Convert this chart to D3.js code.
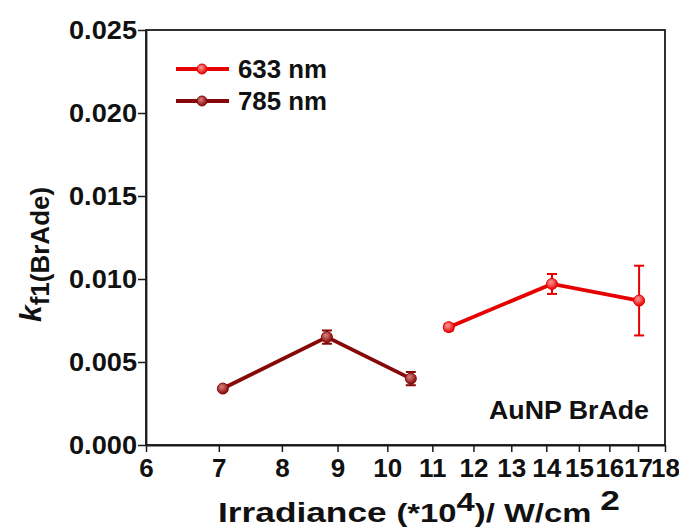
<!DOCTYPE html>
<html>
<head>
<meta charset="utf-8">
<script src="https://cdn.jsdelivr.net/npm/d3@7"></script>
<style>
  body { margin: 0; background: #fff; }
  svg { display: block; font-family: "Liberation Sans", Arial, sans-serif; font-weight: bold; }
</style>
</head>
<body>
<svg width="679" height="529"></svg>
<script>
// data
var irr633 = [11.39, 14.17, 17.04];
var k633 = [0.0071, 0.0097, 0.0087];
var err633 = [0.0002, 0.0006, 0.0021];

var irr785 = [7.06, 8.80, 10.51];
var k785 = [0.0034, 0.0065, 0.0040];
var err785 = [0.0001, 0.0004, 0.0004];

var xTicks = [6, 7, 8, 9, 10, 11, 12, 13, 14, 15, 16, 17, 18];
var yTicks = [0, 0.005, 0.010, 0.015, 0.020, 0.025];

var series = [
  {name: "633 nm", x: irr633, y: k633, e: err633, color: "#e60000", light: "#ff9a9a", id: "g633"},
  {name: "785 nm", x: irr785, y: k785, e: err785, color: "#860808", light: "#d98080", id: "g785"}
];

var svg = d3.select("svg");
var mLeft = 146, mRight = 665, mTop = 30, mBottom = 445;

var x = d3.scaleLog().domain([6, 18]).range([mLeft, mRight]);
var y = d3.scaleLinear().domain([0, 0.025]).range([mBottom, mTop]);

var defs = svg.append("defs");
series.forEach(function(s) {
  var g = defs.append("radialGradient").attr("id", s.id)
    .attr("cx", "40%").attr("cy", "35%").attr("r", "65%");
  g.append("stop").attr("offset", "0%").attr("stop-color", s.light);
  g.append("stop").attr("offset", "100%").attr("stop-color", s.color);
});

// frame
svg.append("rect")
  .attr("x", mLeft).attr("y", mTop)
  .attr("width", mRight - mLeft).attr("height", mBottom - mTop)
  .attr("fill", "none").attr("stroke", "#1a1a1a").attr("stroke-width", 1.8);

// axes
var xAxis = svg.append("g")
  .attr("transform", "translate(0," + mBottom + ")")
  .call(d3.axisBottom(x).tickValues(xTicks).tickFormat(d3.format("d")).tickSize(7).tickSizeOuter(0));
xAxis.select(".domain").attr("stroke", "#1a1a1a").attr("stroke-width", 1.8);
xAxis.selectAll(".tick line").attr("stroke", "#1a1a1a").attr("stroke-width", 1.5);
xAxis.selectAll("text").attr("font-size", 26).attr("fill", "#111").attr("dy", "0.85em")
  .attr("font-family", "Liberation Sans, Arial, sans-serif").attr("font-weight", "bold");

var yAxis = svg.append("g")
  .attr("transform", "translate(" + mLeft + ",0)")
  .call(d3.axisLeft(y).tickValues(yTicks).tickFormat(d3.format(".3f")).tickSize(8).tickPadding(1).tickSizeOuter(0));
yAxis.select(".domain").attr("stroke", "#1a1a1a").attr("stroke-width", 1.8);
yAxis.selectAll(".tick line").attr("stroke", "#1a1a1a").attr("stroke-width", 1.5);
yAxis.selectAll("text").attr("font-size", 25).attr("fill", "#111")
  .attr("textLength", 68).attr("lengthAdjust", "spacingAndGlyphs")
  .attr("font-family", "Liberation Sans, Arial, sans-serif").attr("font-weight", "bold");

// series
var line = d3.line()
  .x(function(d) { return x(d[0]); })
  .y(function(d) { return y(d[1]); });

series.forEach(function(s) {
  var pts = s.x.map(function(v, i) { return [v, s.y[i], s.e[i]]; });
  var g = svg.append("g");

  g.append("path")
    .datum(pts)
    .attr("d", line)
    .attr("fill", "none")
    .attr("stroke", s.color)
    .attr("stroke-width", 3.8);

  var eb = g.selectAll(".err").data(pts).enter().append("g");
  eb.append("line")
    .attr("x1", function(d) { return x(d[0]); })
    .attr("x2", function(d) { return x(d[0]); })
    .attr("y1", function(d) { return y(d[1] - d[2]); })
    .attr("y2", function(d) { return y(d[1] + d[2]); })
    .attr("stroke", s.color).attr("stroke-width", 2);
  [-1, 1].forEach(function(sign) {
    eb.append("line")
      .attr("x1", function(d) { return x(d[0]) - 5; })
      .attr("x2", function(d) { return x(d[0]) + 5; })
      .attr("y1", function(d) { return y(d[1] + sign * d[2]); })
      .attr("y2", function(d) { return y(d[1] + sign * d[2]); })
      .attr("stroke", s.color).attr("stroke-width", 2);
  });

  g.selectAll("circle").data(pts).enter().append("circle")
    .attr("cx", function(d) { return x(d[0]); })
    .attr("cy", function(d) { return y(d[1]); })
    .attr("r", 5.5)
    .attr("fill", "url(#" + s.id + ")")
    .attr("stroke", s.color).attr("stroke-width", 1);
});

// legend
series.forEach(function(s, i) {
  var ly = 69 + i * 32;
  svg.append("line")
    .attr("x1", 176).attr("x2", 229).attr("y1", ly).attr("y2", ly)
    .attr("stroke", s.color).attr("stroke-width", 3.8);
  svg.append("circle")
    .attr("cx", 202).attr("cy", ly).attr("r", 5)
    .attr("fill", "url(#" + s.id + ")").attr("stroke", s.color);
  svg.append("text")
    .attr("x", 238).attr("y", ly + 9)
    .attr("font-size", 25).attr("fill", "#111")
    .attr("textLength", 89).attr("lengthAdjust", "spacingAndGlyphs")
    .text(s.name);
});

// annotation
svg.append("text")
  .attr("x", 649).attr("y", 419)
  .attr("text-anchor", "end")
  .attr("font-size", 26).attr("fill", "#111")
  .attr("textLength", 160).attr("lengthAdjust", "spacingAndGlyphs")
  .text("AuNP BrAde");

// x title
var xt = svg.append("text")
  .attr("x", 218).attr("y", 522)
  .attr("font-size", 28).attr("fill", "#111")
  .attr("textLength", 402).attr("lengthAdjust", "spacingAndGlyphs");
xt.append("tspan").text("Irradiance ");
xt.append("tspan").attr("font-size", 26).text("(*10");
xt.append("tspan").attr("font-size", 26).attr("dy", -11).text("4");
xt.append("tspan").attr("font-size", 26).attr("dy", 11).text(")/ W/cm ");
xt.append("tspan").attr("font-size", 28).attr("dy", -12).text("2");

// y title
var yt = svg.append("text")
  .attr("transform", "translate(41,322) rotate(-90)")
  .attr("font-size", 30).attr("fill", "#111");
yt.append("tspan").attr("font-style", "italic").text("k");
yt.append("tspan").attr("font-size", 26).attr("dy", 8).text("f1(BrAde)");
</script>
</body>
</html>
